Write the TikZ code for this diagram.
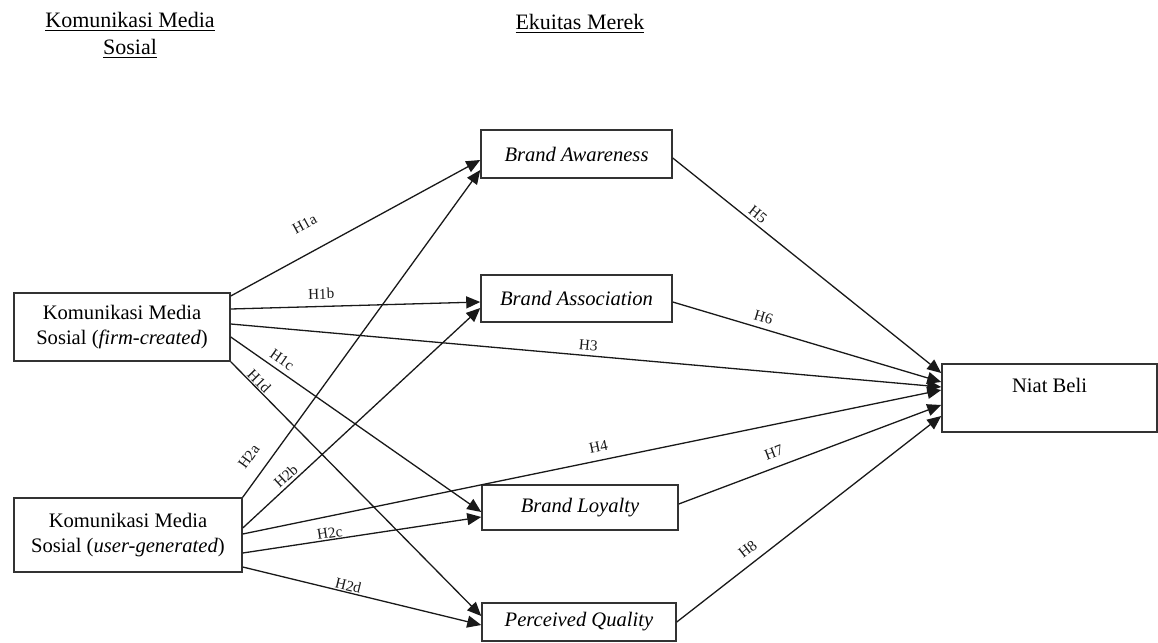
\documentclass[tikz,border=0pt]{standalone}
\usepackage{fontspec}
\setmainfont{Liberation Serif}
\usetikzlibrary{arrows.meta,calc}
\begin{document}
\begin{tikzpicture}[x=0.5pt,y=-0.5pt]
\tikzset{
 box/.style={draw=black!80, line width=0.75pt, rectangle, inner sep=0pt, align=center, font=\fontsize{10.3}{12.5}\selectfont},
 conn/.style={line width=0.65pt, draw=black!90, -{Triangle[length=7pt,width=6pt]}},
 hlab/.style={font=\fontsize{7.6}{8}\selectfont, sloped, inner sep=0pt, text=black!90},
 head/.style={align=center, inner sep=0pt, font=\fontsize{11}{13.5}\selectfont}
}
\useasboundingbox (0,0) rectangle (1158,643);
% headers
\node[head] (h1) at (130,35) {\underline{Komunikasi Media}\\\underline{Sosial}};
\node[head] (h2) at (580,24) {\underline{Ekuitas Merek}};
% boxes
\node[box, minimum width=108pt, minimum height=34pt] (firm) at (122,327) {Komunikasi Media\\Sosial (\textit{firm-created})};
\node[box, minimum width=114pt, minimum height=37pt] (user) at (128,535) {Komunikasi Media\\Sosial (\textit{user-generated})};
\node[box, minimum width=95.5pt, minimum height=24pt] (aw) at (576.5,154) {\textit{Brand Awareness}};
\node[box, minimum width=95.5pt, minimum height=23.5pt] (as) at (576.5,298.5) {\textit{Brand Association}};
\node[box, minimum width=98pt, minimum height=22.5pt] (lo) at (580,507.5) {\textit{Brand Loyalty}};
\node[box, minimum width=97pt, minimum height=19pt] (pq) at (579,622) {\textit{Perceived Quality}};
\node[box, minimum width=107.5pt, minimum height=34pt,
  label={[anchor=center, yshift=-11pt, font=\fontsize{10.3}{12.5}\selectfont]north:Niat Beli}] (nb) at (1049.5,398) {};
% connectors
\draw[conn] ([yshift=15.5pt]firm.east) -- node[hlab, pos=0.349, above=10.95pt]{H1a} ([yshift=-3pt]aw.west);
\draw[conn] ([yshift=9pt]firm.east) -- node[hlab, pos=0.364, above=3.35pt]{H1b} ([yshift=-1.75pt]as.west);
\draw[conn] ([yshift=1.5pt]firm.east) -- node[hlab, pos=0.502, above=2.4pt]{H3} ([yshift=5.5pt]nb.west);
\draw[conn] ([yshift=-5pt]firm.east) -- node[hlab, pos=0.18, above=2.5pt]{H1c} ([yshift=-2.25pt]lo.west);
\draw[conn] (firm.south east) -- node[hlab, pos=0.095, above=0.3pt]{H1d} ([yshift=3pt]pq.west);
\draw[conn] (user.north east) -- node[hlab, pos=0.09, above=6.55pt]{H2a} ([yshift=-8pt]aw.west);
\draw[conn] ([yshift=3.5pt]user.east) -- node[hlab, pos=0.2065, above=1.4pt]{H2b} ([yshift=-4.75pt]as.west);
\draw[conn] ([yshift=0.5pt]user.east) -- node[hlab, pos=0.513, above=3.8pt]{H4} ([yshift=4pt]nb.west);
\draw[conn] ([yshift=-9pt]user.east) -- node[hlab, pos=0.369, above=0.5pt]{H2c} ([yshift=-4.75pt]lo.west);
\draw[conn] ([yshift=-16pt]user.east) -- node[hlab, pos=0.436, above=0.5pt]{H2d} ([yshift=-1.5pt]pq.west);
\draw[conn] ([yshift=-2pt]aw.east) -- node[hlab, pos=0.2955, above=1.8pt]{H5} ([yshift=12.5pt]nb.west);
\draw[conn] ([yshift=-1.75pt]as.east) -- node[hlab, pos=0.326, above=2.85pt]{H6} ([yshift=8pt]nb.west);
\draw[conn] ([yshift=1.75pt]lo.east) -- node[hlab, pos=0.382, above=4.6pt]{H7} ([yshift=-3.5pt]nb.west);
\draw[conn] (pq.east) -- node[hlab, pos=0.30, above=4pt]{H8} ([yshift=-9pt]nb.west);
\end{tikzpicture}
\end{document}
